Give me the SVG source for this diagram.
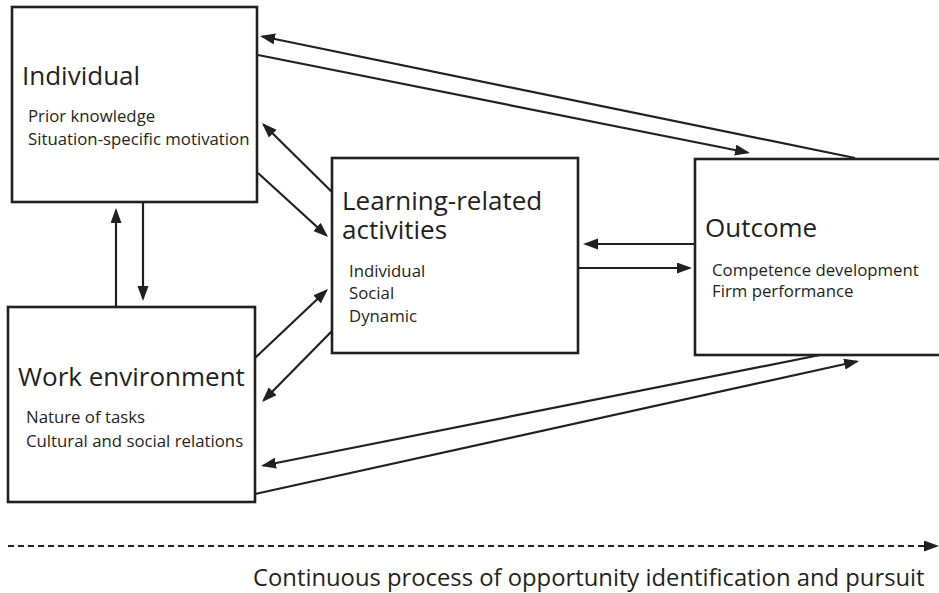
<svg xmlns="http://www.w3.org/2000/svg" width="939" height="593" viewBox="0 0 939 593">
  <style>
    .box { fill: #ffffff; stroke: #231f20; stroke-width: 2.6; }
    .title { font-family: "Open Sans", "Noto Sans", sans-serif; font-size: 26px; fill: #231f20; }
    .item { font-family: "Open Sans", "Noto Sans", sans-serif; font-size: 16.8px; fill: #231f20; }
    .caption { font-family: "Open Sans", "Noto Sans", sans-serif; font-size: 23.8px; fill: #231f20; }
    .link { fill: none; stroke: #231f20; stroke-width: 2.2; marker-end: url(#head); }
    .timeline { fill: none; stroke: #231f20; stroke-width: 2.2; stroke-dasharray: 6 4; marker-end: url(#head); }
  </style>
  <defs>
    <marker id="head" markerUnits="userSpaceOnUse" markerWidth="16" markerHeight="12" refX="12.5" refY="5.5" orient="auto">
      <path d="M0,0 L15,5.5 L0,11 Z" fill="#231f20"/>
    </marker>
  </defs>

  <rect width="939" height="593" fill="#ffffff"/>

  <!-- connectors (drawn first so boxes sit on top of line ends) -->
  <g id="connectors">
    <line class="link" x1="855" y1="158" x2="262.5" y2="36.5"/>
    <line class="link" x1="258" y1="55" x2="747.5" y2="152.5"/>
    <line class="link" x1="332" y1="192" x2="263.8" y2="124.8"/>
    <line class="link" x1="258" y1="173" x2="326.2" y2="235.3"/>
    <line class="link" x1="116" y1="307" x2="116" y2="210.5"/>
    <line class="link" x1="143" y1="202" x2="143" y2="298.5"/>
    <line class="link" x1="255" y1="358" x2="326.2" y2="290.7"/>
    <line class="link" x1="332" y1="331" x2="263.8" y2="400.2"/>
    <line class="link" x1="695" y1="244" x2="585.5" y2="244"/>
    <line class="link" x1="578" y1="268" x2="689.5" y2="268"/>
    <line class="link" x1="820" y1="355" x2="263.5" y2="465.5"/>
    <line class="link" x1="255" y1="494" x2="856.6" y2="361.5"/>
    <line class="timeline" x1="8" y1="546" x2="936.5" y2="546"/>
  </g>

  <g id="individual">
    <rect class="box" x="12" y="7" width="245" height="195"/>
    <text class="title" x="22" y="85">Individual</text>
    <text class="item" x="28" y="122">Prior knowledge</text>
    <text class="item" x="28" y="145">Situation-specific motivation</text>
  </g>

  <g id="work-environment">
    <rect class="box" x="8" y="307" width="247" height="195"/>
    <text class="title" x="18" y="386">Work environment</text>
    <text class="item" x="26" y="423">Nature of tasks</text>
    <text class="item" x="26" y="447">Cultural and social relations</text>
  </g>

  <g id="learning-activities">
    <rect class="box" x="332" y="158" width="246" height="195"/>
    <text class="title" x="342" y="210">Learning-related</text>
    <text class="title" x="342" y="239">activities</text>
    <text class="item" x="349" y="277">Individual</text>
    <text class="item" x="349" y="299">Social</text>
    <text class="item" x="349" y="322">Dynamic</text>
  </g>

  <g id="outcome">
    <rect class="box" x="695" y="159" width="262" height="196"/>
    <text class="title" x="705" y="237">Outcome</text>
    <text class="item" x="712" y="276">Competence development</text>
    <text class="item" x="712" y="297">Firm performance</text>
  </g>

  <g id="process-caption">
    <text class="caption" x="253" y="586">Continuous process of opportunity identification and pursuit</text>
  </g>
</svg>
